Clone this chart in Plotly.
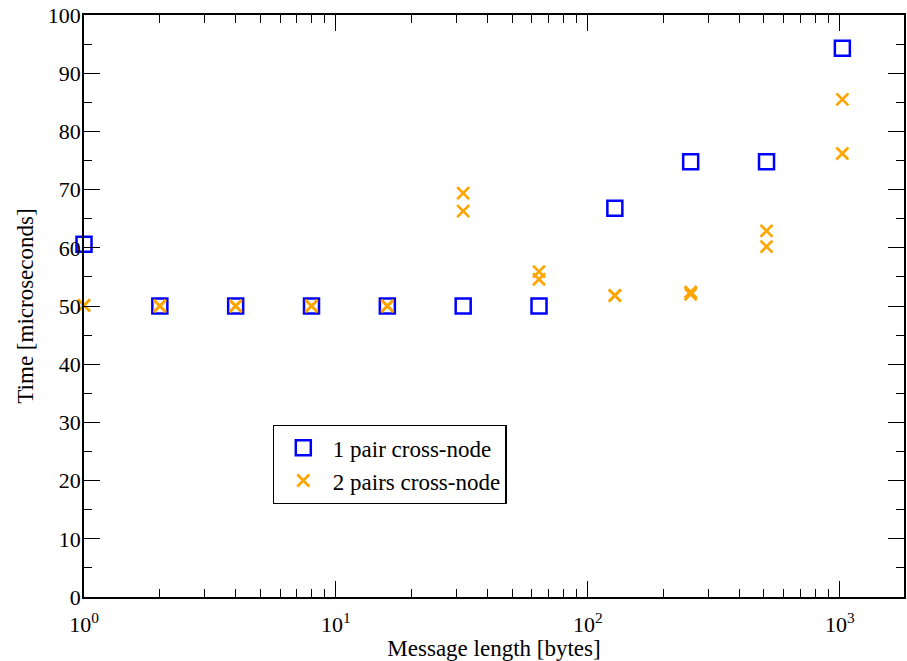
import plotly.graph_objects as go

# Message sizes in bytes
sizes_1pair = [1, 2, 4, 8, 16, 32, 64, 128, 256, 512, 1024]
time_1pair = [60.6, 50.0, 50.0, 50.0, 50.0, 50.0, 50.0, 66.8, 74.8, 74.8, 94.3]

# Two pairs: one measurement per pair at each size
sizes_2pairs = [1, 1, 2, 2, 4, 4, 8, 8, 16, 16, 32, 32, 64, 64,
                128, 128, 256, 256, 512, 512, 1024, 1024]
time_2pairs = [50.1, 50.1, 50.0, 50.0, 50.0, 50.0, 50.0, 50.0, 50.0, 50.0,
               69.4, 66.3, 55.9, 54.6, 51.8, 51.8, 52.4, 52.0, 62.9, 60.2,
               85.5, 76.2]

x_tickvals = [1, 10, 100, 1000]
x_ticktext = ["10<sup>0</sup>", "10<sup>1</sup>", "10<sup>2</sup>", "10<sup>3</sup>"]
y_tickvals = list(range(0, 101, 10))

FONT = "Liberation Serif"

fig = go.Figure()
fig.add_trace(go.Scatter(
    x=sizes_1pair, y=time_1pair, mode="markers", name="1 pair cross-node",
    marker=dict(symbol="square-open", size=15, color="#0000FF",
                line=dict(width=2.5, color="#0000FF")),
    cliponaxis=False,
))
fig.add_trace(go.Scatter(
    x=sizes_2pairs, y=time_2pairs, mode="markers", name="2 pairs cross-node",
    marker=dict(symbol="x-thin-open", size=12, color="#FFA500",
                line=dict(width=2.7, color="#FFA500")),
    cliponaxis=False,
))

axis_common = dict(
    showline=True, linecolor="black", linewidth=1.5, mirror="allticks",
    ticks="inside", ticklen=16, tickwidth=1.3, tickcolor="black",
    showgrid=False, zeroline=False,
    tickfont=dict(family=FONT, size=22, color="black"),
)

fig.update_xaxes(
    type="log", range=[0, 3.255],
    tickvals=x_tickvals, ticktext=x_ticktext,
    ticklabelstandoff=7,
    minor=dict(ticks="inside", ticklen=8, tickwidth=1.3, tickcolor="black",
               dtick="D1", showgrid=False),
    title=dict(text="Message length [bytes]", font=dict(family=FONT, size=23, color="black"),
               standoff=2),
    **axis_common,
)
fig.update_yaxes(
    range=[0, 100], tickvals=y_tickvals,
    ticklabelstandoff=-3,
    minor=dict(ticks="inside", ticklen=8, tickwidth=1.3, tickcolor="black",
               dtick=5, showgrid=False),
    title=dict(text="Time [microseconds]", font=dict(family=FONT, size=23, color="black"),
               standoff=8),
    **axis_common,
)

fig.update_layout(
    width=907, height=661,
    margin=dict(l=84, r=1, t=15, b=64),
    paper_bgcolor="white", plot_bgcolor="white",
    font=dict(family=FONT, size=22, color="black"),
    legend=dict(
        x=0.23, y=0.2955, xanchor="left", yanchor="top",
        bordercolor="black", borderwidth=1.2, bgcolor="white",
        font=dict(family=FONT, size=23, color="black"),
        itemwidth=49,
    ),
)

fig.write_html("out.html")
